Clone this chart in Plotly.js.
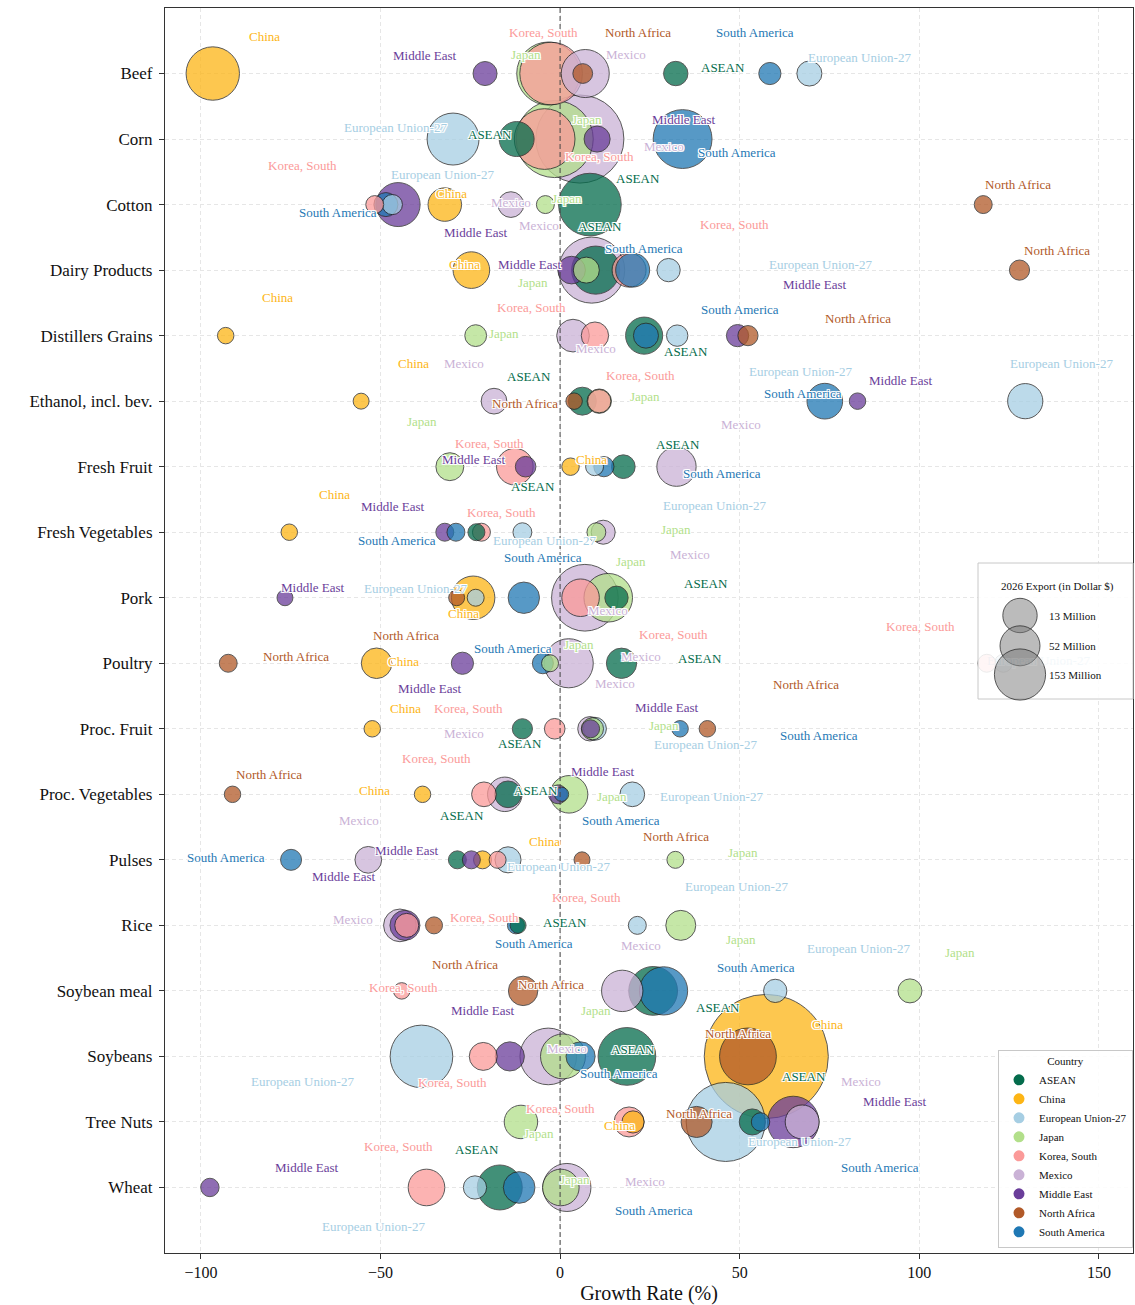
<!DOCTYPE html>
<html><head><meta charset="utf-8">
<script src="https://cdn.plot.ly/plotly-3.0.1.min.js"></script>
<style>body{margin:0;background:#fff}#chart{width:1135px;height:1305px}</style>
</head><body><div id="chart"></div>
<script>
// ---------------- DATA ----------------
const categories = ["Beef","Corn","Cotton","Dairy Products","Distillers Grains","Ethanol, incl. bev.","Fresh Fruit","Fresh Vegetables","Pork","Poultry","Proc. Fruit","Proc. Vegetables","Pulses","Rice","Soybean meal","Soybeans","Tree Nuts","Wheat"];
const countries = ["ASEAN","China","European Union-27","Japan","Korea, South","Mexico","Middle East","North Africa","South America"];

// Growth rate (%) per category (null = no bubble)
const growthASEAN  = [32.2,-12.1,8.3,9.9,23.4,6.2,17.6,-23.3,15.7,17.1,-10.5,-14.5,-28.6,-11.7,25.9,18.6,53.5,-16.8];
const growthChina  = [-96.7,null,-32.1,-24.7,-93.1,-55.4,2.9,-75.4,-24.2,-51.1,-52.3,-38.3,-21.6,null,null,57.4,20.3,null];
const growthEU     = [69.4,-29.8,-46.7,30.2,32.6,129.5,9.6,-10.5,-23.5,123.4,9.7,20.1,-14.5,21.5,59.9,-38.6,46.1,-23.7];
const growthJapan  = [-3.3,-1.5,-4.1,7.3,-23.5,10.9,-30.7,10.1,13.4,-2.8,9.0,2.5,32.1,33.6,97.4,0.8,-10.9,0.2];
const growthKorea  = [-2.5,-4.3,-51.6,19.2,9.7,10.9,-12.6,-21.9,5.7,118.8,-1.5,-21.2,-17.4,-42.7,-44.1,-21.4,19.2,-37.2];
const growthMexico = [7.0,5.5,-13.7,8.8,3.6,-18.4,32.4,12.0,6.9,2.4,8.3,-15.4,-53.4,-44.6,17.3,-3.3,67.4,1.9];
const growthME     = [-20.9,10.3,-45.1,3.2,49.4,82.8,-9.6,-32.1,-76.6,-27.2,8.5,-0.6,-24.7,-43.2,null,-14.0,64.9,-97.5];
const growthNA     = [6.3,null,117.8,127.9,52.3,3.9,null,null,-28.8,-92.4,41.0,-91.2,6.1,-35.1,-10.3,52.3,38.0,null];
const growthSA     = [58.4,34.1,-48.5,20.2,23.9,73.7,12.2,-29.0,-10.1,-4.8,33.4,0.4,-74.9,-12.3,28.8,5.7,55.8,-11.4];

// 2026 export value (million $) per category
const exportASEAN  = [35,72,231,136,81,46,33,17,32,54,24,42,19,15,140,196,40,119];
const exportChina  = [168,null,66,79,16,15,18,16,111,55,16,16,19,null,null,907,29,null];
const exportEU     = [37,159,24,32,27,73,19,21,17,19,31,36,40,19,32,231,368,32];
const exportJapan  = [234,350,19,40,28,35,46,21,139,17,29,83,17,53,34,119,66,79];
const exportKorea  = [231,217,19,68,44,32,79,19,83,19,25,36,17,34,16,46,53,79];
const exportMexico = [136,457,39,257,63,39,91,34,262,142,35,70,42,63,101,189,68,136];
const exportME     = [34,40,114,45,29,16,25,19,15,29,19,21,19,53,null,50,156,20];
const exportNA     = [23,null,19,24,24,16,null,null,15,19,16,16,15,17,51,190,57,null];
const exportSA     = [29,204,34,68,37,75,24,19,58,26,16,12,26,17,137,50,20,59];

// Size legend values (million $)
const sizeLegendValues = [13, 52, 153];
const sizeLegendLabels = ["13 Million","52 Million","153 Million"];

// ---------------- STYLE / POSITIONS ----------------
const colors = {"ASEAN":"#046c4c","China":"#fdb515","European Union-27":"#a6cee3","Japan":"#b2df8a",
  "Korea, South":"#fb9a99","Mexico":"#cab2d6","Middle East":"#6a3d9a","North Africa":"#b15928","South America":"#1f78b4"};

// label offsets in pixels [dx, dy(down)]
const offASEAN  = [[47,-6],[-27,-5],[48,-26],[4,-44],[42,16],[-53,-25],[55,-22],[57,-46],[90,-14],[78,-5],[-2,15],[28,-4],[5,-44],[47,-3],[65,17],[6,-7],[52,-45],[-23,-38]];
const offChina  = [[52,-37],null,[7,-11],[-7,-6],[52,-38],[52,-38],[21,-7],[45,-38],[-10,16],[27,-2],[33,-20],[-48,-4],[62,-18],null,null,[61,-32],[-14,4],null];
const offEU     = [[50,-16],[-58,-12],[50,-30],[152,-6],[123,36],[36,-38],[120,39],[22,8],[-60,-9],[35,-3],[111,16],[79,2],[50,7],[99,-39],[83,-42],[-119,25],[74,20],[-101,39]];
const offJapan  = [[-22,-19],[32,-20],[22,-6],[-53,12],[28,-2],[46,-5],[-28,-45],[80,-3],[23,-36],[29,-19],[72,-3],[43,2],[68,-7],[60,14],[50,-38],[33,-46],[18,12],[14,-8]];
const offKorea  = [[-8,-41],[55,17],[-72,-39],[105,-46],[-63,-28],[41,-26],[-25,-23],[20,-20],[93,37],[-66,-37],[-86,-20],[-47,-36],[89,38],[78,-8],[2,-3],[-31,26],[-69,-13],[-28,-41]];
const offMexico = [[41,-19],[84,7],[0,-2],[-53,-45],[23,13],[-30,-38],[65,-42],[87,22],[23,13],[72,-7],[25,-45],[-41,-61],[-9,-39],[-47,-6],[19,-45],[19,-8],[59,-40],[78,-6]];
const offME     = [[-60,-18],[87,-20],[78,28],[-42,-6],[77,-51],[43,-21],[-52,-7],[-52,-26],[28,-10],[-32,25],[76,-21],[45,-23],[-64,-9],[-61,-49],null,[-27,-46],[102,-20],[97,-20]];
const offNA     = [[55,-41],null,[35,-20],[37,-20],[110,-17],[-49,2],null,null,[-51,38],[68,-7],[99,-44],[36,-20],[94,-23],[31,39],[28,-6],[-10,-23],[2,-8],null];
const offSA     = [[-15,-41],[54,13],[-48,8],[11,-22],[94,-26],[-22,-8],[118,7],[-59,8],[19,-40],[-30,-15],[139,7],[59,26],[-65,-2],[18,18],[92,-23],[38,17],[119,46],[135,23]];

const growth = {"ASEAN":growthASEAN,"China":growthChina,"European Union-27":growthEU,"Japan":growthJapan,"Korea, South":growthKorea,"Mexico":growthMexico,"Middle East":growthME,"North Africa":growthNA,"South America":growthSA};
const exportVal = {"ASEAN":exportASEAN,"China":exportChina,"European Union-27":exportEU,"Japan":exportJapan,"Korea, South":exportKorea,"Mexico":exportMexico,"Middle East":exportME,"North Africa":exportNA,"South America":exportSA};
const offsets = {"ASEAN":offASEAN,"China":offChina,"European Union-27":offEU,"Japan":offJapan,"Korea, South":offKorea,"Mexico":offMexico,"Middle East":offME,"North Africa":offNA,"South America":offSA};

const FONT = "'Liberation Serif', 'Times New Roman', serif";
const SIZE_SCALE = 4.12;           // diameter px per sqrt(million $)
const W = 1135, H = 1305, ML = 165, MR = 2, MT = 8, MB = 52;
const XR = [-110, 159.5], YR = [18, -1];
const PW = W - ML - MR, PH = H - MT - MB;

const points = [];
countries.forEach(c => categories.forEach((cat, i) => {
  const g = growth[c][i];
  if (g !== null && g !== undefined) points.push({c, cat, i, g, v: exportVal[c][i], off: offsets[c][i]});
}));
const drawn = points.slice().sort((a, b) => b.v - a.v);

const traces = [{
  type: 'scatter', mode: 'markers', showlegend: false,
  x: drawn.map(p => p.g), y: drawn.map(p => p.cat),
  text: drawn.map(p => p.c + '<br>' + p.cat + '<br>' + p.g + '%<br>$' + p.v + 'M'),
  hoverinfo: 'text',
  marker: { size: drawn.map(p => SIZE_SCALE * Math.sqrt(p.v)), sizemode: 'diameter',
            color: drawn.map(p => colors[p.c]), opacity: 0.75, line: {color: '#222', width: 1} }
}];
countries.forEach(c => traces.push({
  type: 'scatter', mode: 'markers', name: c, x: [null], y: [null], showlegend: true,
  marker: {size: 11, color: colors[c]}, hoverinfo: 'skip'
}));

const px2paperX = px => (px - ML) / PW;
const py2paperY = py => (H - MB - py) / PH;
const box = {x0: 978, x1: 1133, y0: 563, y1: 699};

const shadow = '1px 0px 0px #fff, -1px 0px 0px #fff, 0px 1px 0px #fff, 0px -1px 0px #fff, 1px 1px 0px #fff, -1px -1px 0px #fff, 1px -1px 0px #fff, -1px 1px 0px #fff';
const annotations = [];
points.forEach(p => {
  const [dx, dy] = p.off;
  const lx = ML + (p.g - XR[0]) / (XR[1] - XR[0]) * PW + dx;
  const ly = MT + (p.i - YR[1]) / (YR[0] - YR[1]) * PH + dy;
  const hidden = lx > box.x0 && lx < box.x1 && ly > box.y0 && ly < box.y1;
  annotations.push({
    x: p.g, y: p.cat, xref: 'x', yref: 'y', text: p.c, showarrow: false,
    xshift: dx, yshift: -dy, xanchor: 'center', yanchor: 'middle',
    opacity: hidden ? 0.12 : 1,
    font: {family: FONT, size: 13, color: colors[p.c], shadow: shadow}
  });
});

const shapes = [
  {type: 'line', xref: 'x', yref: 'paper', x0: 0, x1: 0, y0: 0, y1: 1, layer: 'above',
   line: {color: 'rgba(70,70,70,0.85)', width: 1.2, dash: '5px,3px'}},
  {type: 'rect', xref: 'paper', yref: 'paper', layer: 'above',
   x0: px2paperX(box.x0), x1: px2paperX(box.x1), y0: py2paperY(box.y1), y1: py2paperY(box.y0),
   fillcolor: 'rgba(255,255,255,0.88)', line: {color: '#c8c8c8', width: 1}}
];
const sizeLegendRadiusPx = [17.2, 20, 25.6];
const sizeLegendCenterPy = [615.5, 645.8, 674.5];
sizeLegendValues.forEach((v, k) => {
  const r = sizeLegendRadiusPx[k];
  shapes.push({type: 'circle', xref: 'paper', yref: 'paper', layer: 'above',
    xsizemode: 'pixel', ysizemode: 'pixel',
    xanchor: px2paperX(1020), yanchor: py2paperY(sizeLegendCenterPy[k]),
    x0: -r, x1: r, y0: -r, y1: r,
    fillcolor: 'rgba(120,120,120,0.5)', line: {color: 'rgba(40,40,40,0.75)', width: 1}});
  annotations.push({xref: 'paper', yref: 'paper', x: px2paperX(1047), y: py2paperY(sizeLegendCenterPy[k]),
    xanchor: 'left', yanchor: 'middle', showarrow: false, text: sizeLegendLabels[k],
    font: {family: FONT, size: 11, color: '#111'}});
});
annotations.push({xref: 'paper', yref: 'paper', x: px2paperX(1057), y: py2paperY(586),
  xanchor: 'center', yanchor: 'middle', showarrow: false, text: '2026 Export (in Dollar $)',
  font: {family: FONT, size: 11, color: '#111'}});

const layout = {
  width: W, height: H, margin: {l: ML, r: MR, t: MT, b: MB},
  paper_bgcolor: '#fff', plot_bgcolor: '#fff',
  font: {family: FONT, color: '#111'},
  hovermode: 'closest',
  xaxis: {range: XR, tickvals: [-100, -50, 0, 50, 100, 150], ticks: 'outside', ticklen: 5, tickcolor: '#333',
    showline: true, mirror: true, linecolor: '#333', linewidth: 1.2, zeroline: false,
    showgrid: true, gridcolor: '#e6e6e6', griddash: '4px,3px', gridwidth: 1,
    tickfont: {family: FONT, size: 16, color: '#111'},
    title: {text: 'Growth Rate (%)', font: {family: FONT, size: 20, color: '#111'}, standoff: 6}},
  yaxis: {type: 'category', categoryorder: 'array', categoryarray: categories, range: YR,
    ticks: 'outside', ticklen: 5, tickcolor: '#333', ticklabelstandoff: 3,
    showline: true, mirror: true, linecolor: '#333', linewidth: 1.2, zeroline: false,
    showgrid: true, gridcolor: '#e6e6e6', griddash: '4px,3px', gridwidth: 1,
    tickfont: {family: FONT, size: 17, color: '#111'}},
  legend: {x: 1, xanchor: 'right', y: 0.004, yanchor: 'bottom',
    bgcolor: 'rgba(255,255,255,0.88)', bordercolor: '#c8c8c8', borderwidth: 1,
    font: {family: FONT, size: 11, color: '#111'},
    title: {text: 'Country', side: 'top center', font: {family: FONT, size: 11, color: '#111'}}},
  shapes: shapes,
  annotations: annotations
};

Plotly.newPlot('chart', traces, layout, {displayModeBar: false});
</script>
</body></html>
